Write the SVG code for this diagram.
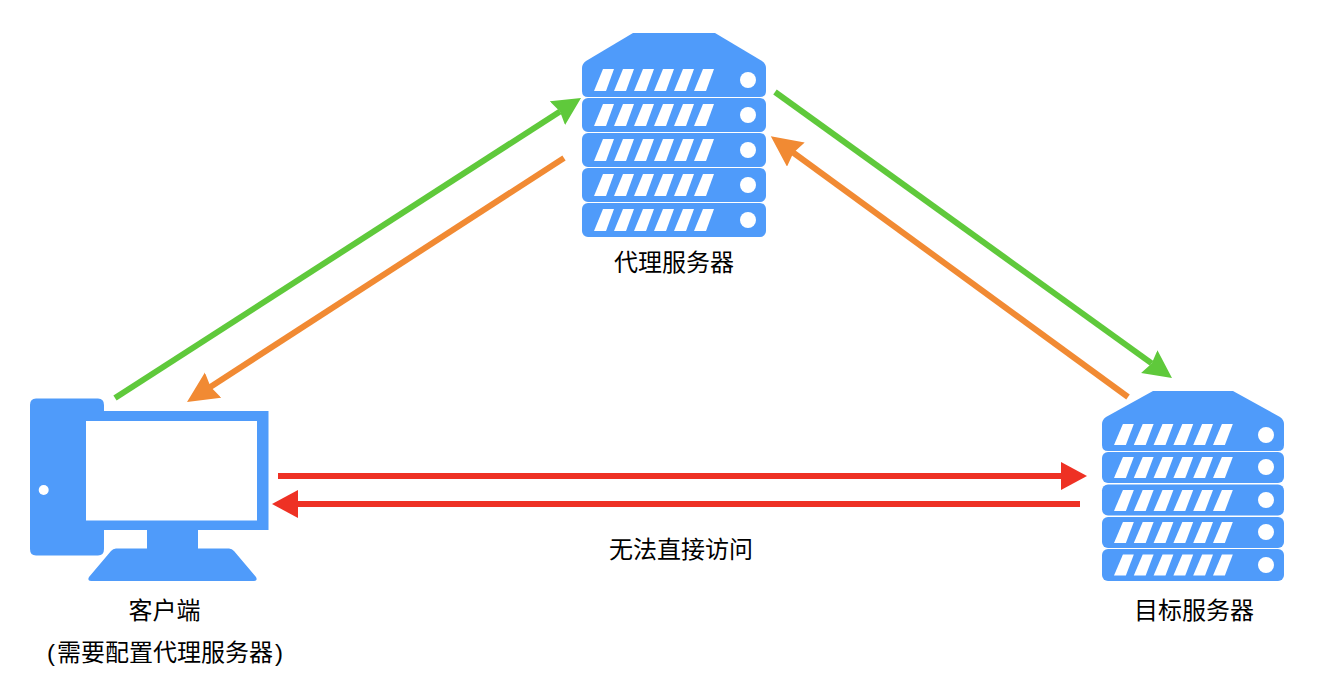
<svg xmlns="http://www.w3.org/2000/svg" width="1320" height="682" viewBox="0 0 1320 682">
<style>
.b{fill:#4f9bfa}
.w{fill:#fff}
.t{font-family:"Liberation Sans","Noto Sans CJK SC",sans-serif;font-size:24px;fill:#000;text-anchor:middle}
.c{fill:none;stroke-width:6}
</style>
<defs>
<g id="sl" class="w">
<polygon points="9,0 20,0 12,22 0,22"/>
<polygon points="29,0 40,0 32,22 20,22"/>
<polygon points="49,0 60,0 52,22 40,22"/>
<polygon points="69,0 80,0 72,22 60,22"/>
<polygon points="89,0 100,0 92,22 80,22"/>
<polygon points="109,0 120,0 112,22 100,22"/>
</g>
<marker id="mg" markerUnits="userSpaceOnUse" markerWidth="32" markerHeight="32" refX="3" refY="14" orient="auto"><path d="M0,0L28,14L0,28L3,14z" fill="#5fc93b"/></marker>
<marker id="mo" markerUnits="userSpaceOnUse" markerWidth="32" markerHeight="32" refX="6" refY="15" orient="auto"><path d="M0,0L31,15L0,30L3,15z" fill="#f18a33"/></marker>
<marker id="mr" markerUnits="userSpaceOnUse" markerWidth="30" markerHeight="30" refX="1" refY="14" orient="auto"><path d="M0,0L26,14L0,28z" fill="#ee3124"/></marker>
</defs>
<g id="connectors" class="c">
<line x1="115" y1="398" x2="560" y2="111.5" stroke="#5fc93b" marker-end="url(#mg)"/>
<line x1="564" y1="158" x2="208" y2="388.4" stroke="#f18a33" marker-end="url(#mo)"/>
<line x1="775" y1="92" x2="1151.7" y2="363.4" stroke="#5fc93b" marker-end="url(#mg)"/>
<line x1="1128" y1="397" x2="791" y2="151" stroke="#f18a33" marker-end="url(#mo)"/>
<line x1="278" y1="476" x2="1062" y2="476" stroke="#ee3124" marker-end="url(#mr)"/>
<line x1="1080" y1="504" x2="297" y2="504" stroke="#ee3124" marker-end="url(#mr)"/>
</g>
<g id="proxy-server">
<path class="b" d="M633,33H715L762,61Q766,64 766,68V91Q766,97 760,97H588Q582,97 582,91V68Q582,64 586,61Z"/>
<rect class="b" x="582" y="98" width="184" height="34" rx="6"/>
<rect class="b" x="582" y="133" width="184" height="34" rx="6"/>
<rect class="b" x="582" y="168" width="184" height="34" rx="6"/>
<rect class="b" x="582" y="203" width="184" height="34" rx="6"/>
<use href="#sl" x="594" y="69"/><use href="#sl" x="594" y="104"/><use href="#sl" x="594" y="139"/><use href="#sl" x="594" y="174"/><use href="#sl" x="594" y="209"/>
<g class="w"><circle cx="748" cy="80" r="8"/><circle cx="748" cy="115" r="8"/><circle cx="748" cy="150" r="8"/><circle cx="748" cy="185" r="8"/><circle cx="748" cy="220" r="8"/></g>
<text class="t" x="674" y="270.500">代理服务器</text>
</g>
<g id="target-server">
<path class="b" d="M1153,391H1233L1280,417Q1284,420 1284,424V445Q1284,451 1278,451H1108Q1102,451 1102,445V424Q1102,420 1106,417Z"/>
<rect class="b" x="1102" y="452" width="182" height="31" rx="6"/>
<rect class="b" x="1102" y="484.500" width="182" height="31" rx="6"/>
<rect class="b" x="1102" y="517" width="182" height="31" rx="6"/>
<rect class="b" x="1102" y="549" width="182" height="32" rx="6"/>
<use href="#sl" transform="translate(1114,424) scale(.99,.95)"/><use href="#sl" transform="translate(1114,457) scale(.99,.95)"/><use href="#sl" transform="translate(1114,490) scale(.99,.95)"/><use href="#sl" transform="translate(1114,522) scale(.99,.95)"/><use href="#sl" transform="translate(1114,554.500) scale(.99,.95)"/>
<g class="w"><circle cx="1266" cy="435" r="8"/><circle cx="1266" cy="467" r="8"/><circle cx="1266" cy="500" r="8"/><circle cx="1266" cy="532" r="8"/><circle cx="1266" cy="565" r="8"/></g>
<text class="t" x="1194" y="619">目标服务器</text>
</g>
<g id="client">
<path class="b" d="M36,398.500H98Q104,398.500 104,405V411H268.500V530H198V548.500H229Q232,548.500 234,551L256,577Q258,581 254,581H91Q87,581 89,577L111,551Q113,548.500 116,548.500H147V530H104V549Q104,555.500 98,555.500H36Q30,555.500 30,549V405Q30,398.500 36,398.500Z"/>
<rect class="w" x="86" y="421" width="171" height="99.500"/>
<circle class="w" cx="43.700" cy="490" r="5"/>
<text class="t" x="164.500" y="619">客户端</text>
<text class="t" x="165" y="661">(<tspan dx="2">需要配置代理服务器</tspan><tspan dx="2">)</tspan></text>
</g>
<g id="edge-label">
<text class="t" x="681" y="557.500">无法直接访问</text>
</g>
</svg>
